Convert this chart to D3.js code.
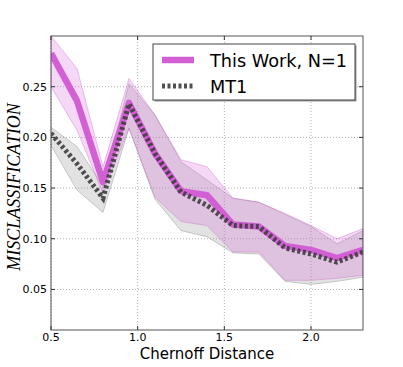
<!DOCTYPE html>
<html>
<head>
<meta charset="utf-8">
<script src="https://cdn.jsdelivr.net/npm/d3@7"></script>
<style>
  body { margin: 0; background: #fff; }
  text { font-family: "DejaVu Sans", sans-serif; }
</style>
</head>
<body>
<div id="chart"></div>
<script>
// Chernoff distance values (x)
var distances = [0.5, 0.65, 0.8, 0.95, 1.1, 1.25, 1.4, 1.55, 1.7, 1.85, 2.0, 2.15, 2.3];

// This Work, N=1 : mean and band
var workMean  = [0.283, 0.236, 0.156, 0.234, 0.184, 0.147, 0.143, 0.114, 0.112, 0.093, 0.089, 0.081, 0.089];
var workUpper = [0.300, 0.268, 0.171, 0.258, 0.222, 0.178, 0.171, 0.140, 0.136, 0.125, 0.113, 0.100, 0.110];
var workLower = [0.250, 0.207, 0.145, 0.209, 0.141, 0.117, 0.113, 0.087, 0.087, 0.059, 0.059, 0.061, 0.064];

// MT1 : mean and band
var mtMean  = [0.204, 0.174, 0.140, 0.233, 0.184, 0.146, 0.133, 0.113, 0.112, 0.091, 0.085, 0.077, 0.087];
var mtUpper = [0.210, 0.191, 0.152, 0.253, 0.222, 0.176, 0.158, 0.140, 0.136, 0.124, 0.112, 0.095, 0.108];
var mtLower = [0.192, 0.148, 0.126, 0.209, 0.139, 0.108, 0.102, 0.086, 0.085, 0.058, 0.055, 0.058, 0.062];

var xTicks = [0.5, 1.0, 1.5, 2.0];
var yTicks = [0.05, 0.10, 0.15, 0.20, 0.25];

var margin = {top: 36, right: 40, bottom: 37, left: 51},
    width = 403 - margin.left - margin.right,
    height = 367 - margin.top - margin.bottom;

var svg = d3.select("#chart").append("svg")
    .attr("width", 403)
    .attr("height", 367);

var g = svg.append("g")
    .attr("transform", "translate(" + margin.left + "," + margin.top + ")");

var x = d3.scaleLinear().domain([0.5, 2.3]).range([0, width]);
var y = d3.scaleLinear().domain([0.01, 0.30]).range([height, 0]);

g.append("clipPath").attr("id", "clip")
  .append("rect").attr("width", width).attr("height", height);

// grid
g.append("g").selectAll("line").data(xTicks).enter().append("line")
    .attr("x1", function(d) { return x(d); }).attr("x2", function(d) { return x(d); })
    .attr("y1", 0).attr("y2", height)
    .attr("stroke", "#b0b0b0").attr("stroke-dasharray", "1,2");
g.append("g").selectAll("line").data(yTicks).enter().append("line")
    .attr("y1", function(d) { return y(d); }).attr("y2", function(d) { return y(d); })
    .attr("x1", 0).attr("x2", width)
    .attr("stroke", "#b0b0b0").attr("stroke-dasharray", "1,2");

var plot = g.append("g").attr("clip-path", "url(#clip)");

var idx = d3.range(distances.length);

function band(lo, hi) {
  return d3.area()
    .x(function(i) { return x(distances[i]); })
    .y0(function(i) { return y(lo[i]); })
    .y1(function(i) { return y(hi[i]); });
}
function line(vals) {
  return d3.line()
    .x(function(i) { return x(distances[i]); })
    .y(function(i) { return y(vals[i]); });
}

// bands
plot.append("path").attr("d", band(mtLower, mtUpper)(idx))
    .attr("fill", "rgba(140,140,140,0.25)")
    .attr("stroke", "rgba(120,120,120,0.35)").attr("stroke-width", 1);
plot.append("path").attr("d", band(workLower, workUpper)(idx))
    .attr("fill", "rgba(215,100,215,0.25)")
    .attr("stroke", "rgba(200,90,200,0.35)").attr("stroke-width", 1);

// lines
plot.append("path").attr("d", line(workMean)(idx))
    .attr("fill", "none").attr("stroke", "#d35fd5")
    .attr("stroke-width", 6.5).attr("stroke-linejoin", "round");
plot.append("path").attr("d", line(mtMean)(idx))
    .attr("fill", "none").attr("stroke", "#3d3d3d")
    .attr("stroke-width", 5).attr("stroke-dasharray", "3,2.5")
    .attr("stroke-opacity", 0.9);

// frame
g.append("rect").attr("width", width).attr("height", height)
    .attr("fill", "none").attr("stroke", "#555").attr("stroke-width", 1);

// ticks (inward, all sides)
var tk = g.append("g").attr("stroke", "#333");
xTicks.forEach(function(d) {
  tk.append("line").attr("x1", x(d)).attr("x2", x(d)).attr("y1", height).attr("y2", height - 4);
  tk.append("line").attr("x1", x(d)).attr("x2", x(d)).attr("y1", 0).attr("y2", 4);
});
yTicks.forEach(function(d) {
  tk.append("line").attr("y1", y(d)).attr("y2", y(d)).attr("x1", 0).attr("x2", 4);
  tk.append("line").attr("y1", y(d)).attr("y2", y(d)).attr("x1", width).attr("x2", width - 4);
});

// tick labels
g.append("g").selectAll("text").data(xTicks).enter().append("text")
    .attr("x", function(d) { return x(d); })
    .attr("y", height + 11)
    .attr("text-anchor", "middle")
    .attr("font-size", "11px")
    .text(function(d) { return d3.format(".1f")(d); });
g.append("g").selectAll("text").data(yTicks).enter().append("text")
    .attr("x", -4)
    .attr("y", function(d) { return y(d); })
    .attr("dy", "0.35em")
    .attr("text-anchor", "end")
    .attr("font-size", "11px")
    .text(function(d) { return d3.format(".2f")(d); });

// axis labels
svg.append("text")
    .attr("x", margin.left + width / 2)
    .attr("y", 359)
    .attr("text-anchor", "middle")
    .attr("font-size", "15px")
    .text("Chernoff Distance");

svg.append("text")
    .attr("transform", "translate(20," + (margin.top + height / 2 + 4) + ") rotate(-90)")
    .attr("text-anchor", "middle")
    .style("font-family", "'Liberation Serif', serif")
    .style("font-style", "italic")
    .attr("font-size", "18px")
    .text("MISCLASSIFICATION");

// legend
var leg = svg.append("g").attr("transform", "translate(153,44)");
leg.append("rect").attr("x", 1.5).attr("y", 1.5).attr("width", 202).attr("height", 56)
    .attr("fill", "#999");
leg.append("rect").attr("width", 202).attr("height", 56)
    .attr("fill", "#fff").attr("stroke", "#444").attr("stroke-width", 1);
leg.append("line").attr("x1", 9).attr("x2", 41).attr("y1", 16).attr("y2", 16)
    .attr("stroke", "#d35fd5").attr("stroke-width", 6.5);
leg.append("line").attr("x1", 9).attr("x2", 41).attr("y1", 42).attr("y2", 42)
    .attr("stroke", "#3d3d3d").attr("stroke-width", 5)
    .attr("stroke-dasharray", "3,2.5").attr("stroke-opacity", 0.9);
leg.append("text").attr("x", 57).attr("y", 23).attr("font-size", "17.7px").text("This Work, N=1");
leg.append("text").attr("x", 57).attr("y", 49).attr("font-size", "17.7px").text("MT1");
</script>
</body>
</html>
